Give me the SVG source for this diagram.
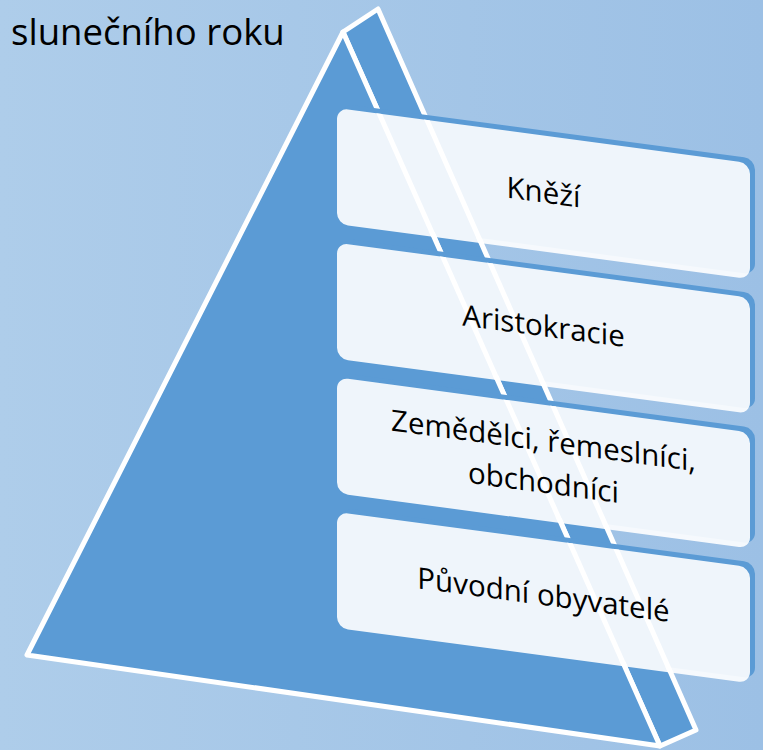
<svg xmlns="http://www.w3.org/2000/svg" width="763" height="750" viewBox="0 0 763 750">
<defs>
<linearGradient id="bg" x1="0" y1="0" x2="1" y2="0">
<stop offset="0" stop-color="#aecdea"/>
<stop offset="1" stop-color="#9cc0e5"/>
</linearGradient>
<clipPath id="cards">
<rect transform="matrix(1 0.1334 0 1 337 108)" width="413" height="116" rx="11"/>
<rect transform="matrix(1 0.1334 0 1 337 242.7)" width="413" height="116" rx="11"/>
<rect transform="matrix(1 0.1334 0 1 337 377.3)" width="413" height="116" rx="11"/>
<rect transform="matrix(1 0.1334 0 1 337 512)" width="413" height="116" rx="11"/>
</clipPath>
<style>
.face{fill:#5b9bd5;stroke:#ffffff;stroke-width:5;stroke-linejoin:round}
.back{fill:#5b9bd5}
.card{fill:#ffffff;fill-opacity:0.9}
.edge{stroke:#ffffff;stroke-width:5;fill:none}
.lbl{font-family:"Open Sans","Liberation Sans",sans-serif;font-size:29.5px;fill:#000000;text-anchor:middle}
.title{font-family:"Open Sans","Liberation Sans",sans-serif;font-size:36.6px;fill:#000000}
</style>
</defs>
<rect width="763" height="750" fill="url(#bg)"/>
<text class="title" x="11" y="44.5">slunečního roku</text>
<g id="pyramid">
<polygon class="face" points="343,32 378,9 696,730 660,746"/>
<polygon class="face" points="343,32 27,655 660,746"/>
</g>
<g id="box1" transform="matrix(1 0.1334 0 1 337 108)">
<rect class="back" x="5" y="-5" width="413" height="116" rx="11"/>
<rect class="card" x="0" y="0" width="413" height="116" rx="11"/>
</g>
<g id="box2" transform="matrix(1 0.1334 0 1 337 242.7)">
<rect class="back" x="5" y="-5" width="413" height="116" rx="11"/>
<rect class="card" x="0" y="0" width="413" height="116" rx="11"/>
</g>
<g id="box3" transform="matrix(1 0.1334 0 1 337 377.3)">
<rect class="back" x="5" y="-5" width="413" height="116" rx="11"/>
<rect class="card" x="0" y="0" width="413" height="116" rx="11"/>
</g>
<g id="box4" transform="matrix(1 0.1334 0 1 337 512)">
<rect class="back" x="5" y="-5" width="413" height="116" rx="11"/>
<rect class="card" x="0" y="0" width="413" height="116" rx="11"/>
</g>
<g id="edges-through" clip-path="url(#cards)">
<line class="edge" x1="343" y1="32" x2="660" y2="746"/>
<line class="edge" x1="378" y1="9" x2="696" y2="730"/>
</g>
<g id="labels">
<g transform="matrix(1 0.1334 0 1 337 108)"><text class="lbl" x="206.5" y="67">Kněží</text></g>
<g transform="matrix(1 0.1334 0 1 337 242.7)"><text class="lbl" x="206.5" y="66">Aristokracie</text></g>
<g transform="matrix(1 0.1334 0 1 337 377.3)"><text class="lbl" x="206.5" y="46">Zemědělci, řemeslníci,</text><text class="lbl" x="206.5" y="88">obchodníci</text></g>
<g transform="matrix(1 0.1334 0 1 337 512)"><text class="lbl" x="206.5" y="65.5">Původní obyvatelé</text></g>
</g>
<g id="connectors"/>
</svg>
